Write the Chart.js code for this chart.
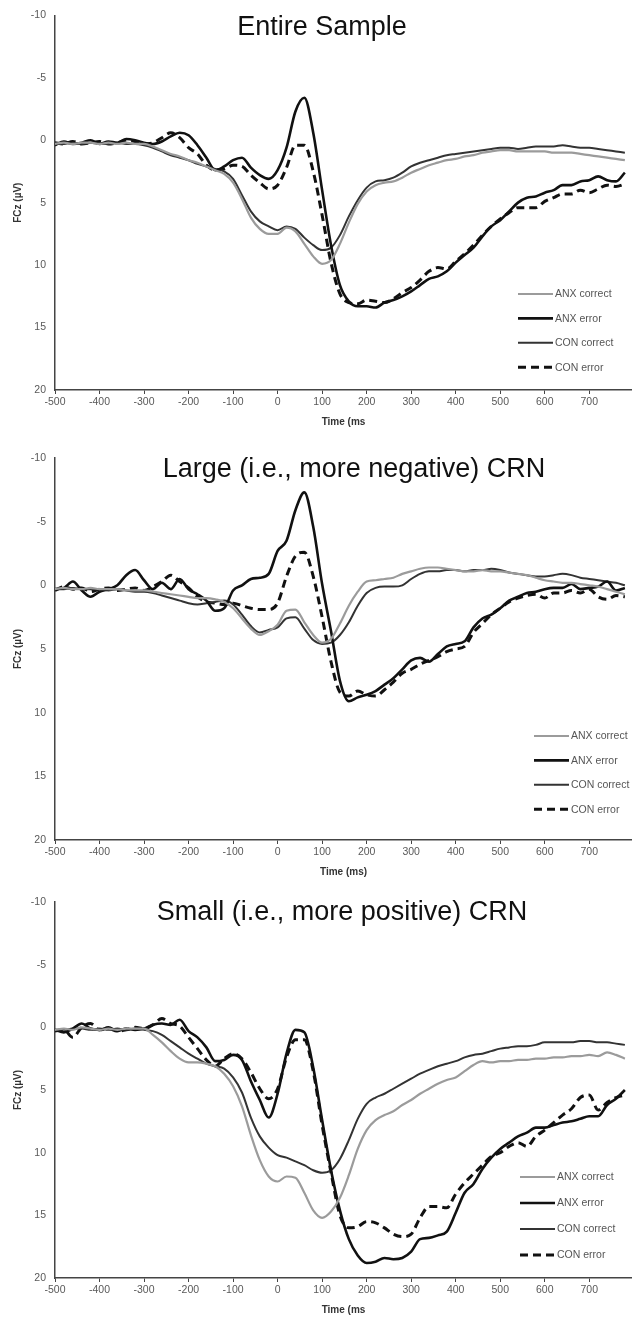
<!DOCTYPE html>
<html>
<head>
<meta charset="utf-8">
<script src="https://cdn.jsdelivr.net/npm/chart.js@4.4.1/dist/chart.umd.min.js"></script>
<style>
  body { margin: 0; background: #fff; }
  .panel { position: absolute; left: 0; width: 632px; }
</style>
</head>
<body>
<div class="panel" style="top:0;height:432px"><canvas id="entire"></canvas></div>
<div class="panel" style="top:442px;height:440px"><canvas id="large"></canvas></div>
<div class="panel" style="top:886px;height:434px"><canvas id="small"></canvas></div>
<script>
// time points (ms), shared by every panel
const times = [-500, -480, -460, -440, -420, -400, -380, -360, -340, -320, -300, -280, -260, -240, -220,
  -200, -180, -160, -140, -120, -100, -80, -60, -40, -20, 0, 20, 40, 60, 80, 100, 120, 140, 160, 180,
  200, 220, 240, 260, 280, 300, 320, 340, 360, 380, 400, 420, 440, 460, 480, 500, 520, 540, 560, 580,
  600, 620, 640, 660, 680, 700, 720, 740, 760, 780];

const seriesNames = ['ANX correct', 'ANX error', 'CON correct', 'CON error'];
const yTicks = [-10, -5, 0, 5, 10, 15, 20];
const xTicks = [-500, -400, -300, -200, -100, 0, 100, 200, 300, 400, 500, 600, 700];

// Entire Sample
const anxCorrect1 = [0.3, 0.2, 0.3, 0.2, 0.2, 0.3, 0.2, 0.3, 0.2, 0.3, 0.3, 0.5, 0.8, 1.1, 1.3,
  1.6, 1.8, 2.1, 2.4, 2.7, 3.4, 4.7, 6.2, 7.1, 7.5, 7.5, 7.0, 7.3, 8.3, 9.3, 9.9, 9.6, 8.3, 6.6, 5.1,
  4.1, 3.6, 3.4, 3.3, 3.0, 2.6, 2.3, 2.0, 1.8, 1.6, 1.5, 1.3, 1.2, 1.0, 0.9, 0.8, 0.8, 0.9, 0.9, 0.9,
  0.9, 1.0, 1.0, 1.0, 1.1, 1.2, 1.3, 1.4, 1.5, 1.6];
const anxError1 = [0.4, 0.1, 0.3, 0.2, 0.0, 0.3, 0.1, 0.2, -0.1, 0.0, 0.2, 0.3, 0.1, -0.3, -0.6,
  -0.4, 0.4, 1.4, 2.4, 2.1, 1.6, 1.4, 2.2, 2.8, 3.1, 2.4, 0.6, -2.3, -3.4, -0.6, 4.0, 8.4, 11.6, 12.9, 13.3,
  13.3, 13.4, 13.0, 12.8, 12.5, 12.1, 11.6, 11.1, 10.9, 10.5, 9.8, 9.2, 8.6, 7.7, 6.9, 6.4, 5.7, 5.0, 4.6, 4.5,
  4.2, 4.0, 3.6, 3.6, 3.3, 3.2, 2.9, 3.2, 3.3, 2.6];
const conCorrect1 = [0.3, 0.3, 0.2, 0.3, 0.2, 0.3, 0.3, 0.2, 0.3, 0.3, 0.4, 0.6, 0.9, 1.2, 1.4,
  1.6, 1.9, 2.1, 2.3, 2.5, 3.1, 4.4, 5.7, 6.5, 6.9, 7.2, 6.9, 7.1, 7.8, 8.4, 8.8, 8.6, 7.6, 6.1, 4.8,
  3.8, 3.3, 3.2, 3.0, 2.6, 2.1, 1.8, 1.6, 1.4, 1.2, 1.1, 1.0, 0.9, 0.8, 0.7, 0.6, 0.6, 0.7, 0.6, 0.5,
  0.5, 0.5, 0.4, 0.5, 0.6, 0.6, 0.7, 0.8, 0.9, 1.0];
const conError1 = [0.2, 0.3, 0.1, 0.3, 0.2, 0.1, 0.3, 0.2, 0.0, 0.1, 0.3, 0.2, -0.2, -0.6, -0.2,
  0.6, 1.1, 2.0, 2.4, 2.3, 2.0, 2.1, 2.8, 3.4, 3.9, 3.6, 2.2, 0.4, 0.4, 2.5, 6.0, 9.8, 12.3, 13.0, 13.1,
  12.8, 12.9, 13.0, 12.7, 12.2, 11.8, 11.2, 10.5, 10.2, 10.3, 9.7, 9.1, 8.4, 7.6, 6.9, 6.3, 5.8, 5.4, 5.4, 5.4,
  4.9, 4.6, 4.3, 4.3, 4.0, 4.2, 3.9, 3.6, 3.7, 3.5];

// Large (i.e., more negative) CRN
const anxCorrect2 = [0.3, 0.2, 0.3, 0.3, 0.2, 0.3, 0.3, 0.3, 0.4, 0.4, 0.4, 0.5, 0.6, 0.7, 0.8,
  0.9, 1.0, 1.0, 1.1, 1.3, 1.8, 2.6, 3.4, 3.9, 3.6, 3.1, 2.0, 1.9, 2.9, 3.9, 4.5, 4.2, 3.0, 1.6, 0.5,
  -0.3, -0.4, -0.5, -0.6, -0.9, -1.1, -1.3, -1.4, -1.4, -1.3, -1.2, -1.1, -1.1, -1.2, -1.1, -1.1, -1.0, -0.9, -0.8, -0.6,
  -0.4, -0.3, -0.2, -0.2, -0.1, 0.0, 0.1, 0.3, 0.5, 0.7];
const anxError2 = [0.3, 0.2, -0.3, 0.4, 0.9, 0.5, 0.3, 0.0, -0.8, -1.2, -0.4, 0.3, -0.2, 0.3, -0.5,
  0.3, 0.7, 1.2, 2.0, 1.8, 0.4, 0.0, -0.5, -0.6, -0.9, -2.7, -3.5, -5.9, -7.3, -4.6, -0.1, 3.6, 7.5, 9.1, 8.8,
  8.6, 8.3, 7.8, 7.3, 6.6, 5.9, 5.7, 6.0, 5.4, 4.8, 4.6, 4.4, 3.3, 2.6, 2.3, 1.8, 1.2, 0.9, 0.6, 0.5,
  0.3, 0.2, 0.2, -0.1, 0.3, 0.2, 0.1, -0.3, 0.4, 0.2];
const conCorrect2 = [0.3, 0.3, 0.2, 0.3, 0.3, 0.3, 0.4, 0.3, 0.4, 0.5, 0.5, 0.6, 0.8, 1.0, 1.2,
  1.4, 1.5, 1.4, 1.3, 1.2, 1.5, 2.3, 3.2, 3.7, 3.5, 3.3, 2.6, 2.5, 3.4, 4.3, 4.6, 4.5, 3.9, 2.9, 1.6,
  0.6, 0.2, 0.1, 0.1, 0.0, -0.5, -0.9, -1.1, -1.1, -1.2, -1.2, -1.1, -1.2, -1.2, -1.3, -1.2, -1.0, -0.9, -0.8, -0.7,
  -0.7, -0.8, -0.9, -0.8, -0.6, -0.5, -0.4, -0.3, -0.2, 0.0];
const conError2 = [0.4, 0.1, 0.3, 0.2, 0.5, 0.3, 0.2, 0.4, 0.3, 0.2, 0.4, 0.1, -0.3, -0.8, -0.3,
  0.2, 0.9, 1.3, 1.4, 1.5, 1.4, 1.6, 1.8, 1.9, 1.9, 1.4, -0.7, -2.3, -2.6, -0.7, 2.5, 6.0, 8.4, 8.7, 8.3,
  8.6, 8.7, 8.2, 7.6, 6.9, 6.6, 6.2, 5.9, 5.6, 5.2, 5.0, 4.8, 3.7, 3.0, 2.3, 1.8, 1.3, 1.0, 0.8, 0.7,
  1.0, 0.6, 0.6, 0.4, 0.6, 0.3, 0.9, 1.1, 0.8, 0.9];

// Small (i.e., more positive) CRN
const anxCorrect3 = [0.2, 0.1, 0.2, 0.0, 0.1, 0.2, 0.1, 0.2, 0.1, 0.1, 0.1, 0.6, 1.2, 1.9, 2.5,
  2.8, 2.8, 2.9, 3.1, 3.7, 4.7, 6.3, 8.6, 10.6, 11.9, 12.3, 11.9, 12.0, 13.2, 14.6, 15.2, 14.7, 13.6, 11.8, 9.7,
  8.2, 7.4, 7.0, 6.7, 6.2, 5.8, 5.3, 4.9, 4.5, 4.2, 4.0, 3.5, 3.0, 2.7, 2.8, 2.7, 2.7, 2.6, 2.6, 2.5,
  2.5, 2.4, 2.4, 2.3, 2.3, 2.2, 2.3, 2.0, 2.2, 2.5];
const anxError3 = [0.2, 0.4, 0.1, -0.3, 0.1, 0.2, 0.0, 0.3, 0.1, 0.2, 0.1, -0.2, -0.3, -0.2, -0.6,
  0.3, 0.8, 1.6, 2.7, 2.6, 2.2, 2.6, 4.3, 5.8, 7.2, 5.3, 2.1, 0.2, 0.4, 3.2, 7.4, 11.4, 14.6, 16.9, 18.2,
  18.8, 18.7, 18.4, 18.5, 18.4, 17.9, 16.9, 16.8, 16.6, 16.3, 14.8, 13.2, 12.5, 11.3, 10.4, 9.7, 9.2, 8.7, 8.4, 8.0,
  8.0, 7.8, 7.6, 7.5, 7.3, 7.1, 7.1, 6.2, 5.7, 5.0];
const conCorrect3 = [0.2, 0.2, 0.1, 0.1, 0.2, 0.1, 0.2, 0.1, 0.2, 0.1, 0.2, 0.3, 0.6, 1.1, 1.6,
  2.1, 2.5, 2.9, 3.1, 3.3, 4.0, 5.2, 7.2, 8.7, 9.6, 10.2, 10.4, 10.7, 11.0, 11.4, 11.6, 11.4, 10.5, 9.0, 7.3,
  6.1, 5.6, 5.3, 4.9, 4.5, 4.1, 3.7, 3.4, 3.1, 2.9, 2.7, 2.4, 2.2, 2.1, 1.9, 1.7, 1.6, 1.5, 1.5, 1.4,
  1.2, 1.2, 1.2, 1.2, 1.1, 1.1, 1.2, 1.2, 1.3, 1.4];
const conError3 = [0.3, 0.2, 0.8, 0.0, -0.3, 0.2, 0.1, 0.3, 0.2, 0.0, 0.1, -0.2, -0.7, -0.3, -0.1,
  0.8, 1.7, 2.6, 3.1, 2.5, 2.1, 2.5, 3.6, 4.9, 5.7, 4.9, 2.4, 1.0, 1.0, 3.5, 7.8, 11.6, 15.0, 16.0, 15.9,
  15.5, 15.6, 16.0, 16.5, 16.7, 16.5, 15.2, 14.3, 14.3, 14.4, 13.3, 12.4, 11.7, 11.0, 10.3, 10.0, 9.5, 9.2, 9.5, 8.7,
  8.2, 7.6, 7.0, 6.5, 5.6, 5.4, 6.6, 6.0, 5.6, 5.4];

const lineStyles = [
  { color: '#9b9b9b', width: 2.2, dash: [] },
  { color: '#111111', width: 2.6, dash: [] },
  { color: '#333333', width: 2.0, dash: [] },
  { color: '#111111', width: 3.0, dash: [8, 5] }
];

const tickFont = { family: '"Liberation Sans", Arial, sans-serif', size: 10.5 };

// title and legend drawn inside the plot area, like the original figure
const panelDecor = {
  id: 'panelDecor',
  afterDraw(chart, args, o) {
    const ctx = chart.ctx;
    ctx.save();
    ctx.fillStyle = '#111';
    ctx.font = '27px "Liberation Sans", Arial, sans-serif';
    ctx.textAlign = 'center';
    ctx.textBaseline = 'middle';
    ctx.fillText(o.title, o.titleX, o.titleY);

    ctx.font = '10.5px "Liberation Sans", Arial, sans-serif';
    ctx.textAlign = 'left';
    chart.data.datasets.forEach((ds, i) => {
      const y = o.legendY + i * o.legendGap;
      ctx.beginPath();
      ctx.strokeStyle = ds.borderColor;
      ctx.lineWidth = ds.borderWidth;
      ctx.setLineDash(ds.borderDash);
      ctx.moveTo(o.legendX, y);
      ctx.lineTo(o.legendX + 35, y);
      ctx.stroke();
      ctx.setLineDash([]);
      ctx.fillStyle = '#555';
      ctx.fillText(ds.label, o.legendX + 37, y + 0.5);
    });
    ctx.restore();
  }
};

function makeChart(id, series, opts) {
  const datasets = series.map((values, i) => ({
    label: seriesNames[i],
    data: times.map((t, k) => ({ x: t, y: values[k] })),
    borderColor: lineStyles[i].color,
    borderWidth: lineStyles[i].width,
    borderDash: lineStyles[i].dash,
    pointRadius: 0,
    cubicInterpolationMode: 'monotone',
    fill: false
  }));

  return new Chart(document.getElementById(id), {
    type: 'line',
    data: { datasets },
    plugins: [panelDecor],
    options: {
      responsive: true,
      maintainAspectRatio: false,
      animation: false,
      layout: { padding: { top: opts.top, left: 0, right: 0, bottom: 0 } },
      scales: {
        x: {
          type: 'linear',
          min: -500,
          max: 796,
          afterBuildTicks: (scale) => {
            scale.ticks = xTicks.map(v => ({ value: v }));
          },
          afterFit: (scale) => { scale.height = 42; },
          ticks: { color: '#595959', font: tickFont, padding: 2, maxRotation: 0, autoSkip: false },
          grid: { drawOnChartArea: false, tickLength: 4, color: '#444' },
          border: { color: '#444', width: 1.5 },
          title: {
            display: true,
            text: opts.xTitle,
            color: '#333',
            font: { family: '"Liberation Sans", Arial, sans-serif', size: 10, weight: 'bold' },
            padding: { top: 0, bottom: 4 }
          }
        },
        y: {
          min: -10,
          max: 20,
          reverse: true,
          afterBuildTicks: (scale) => {
            scale.ticks = yTicks.map(v => ({ value: v }));
          },
          afterFit: (scale) => { scale.width = 55; },
          ticks: { color: '#595959', font: tickFont, padding: 9 },
          grid: { drawOnChartArea: false, drawTicks: false },
          border: { color: '#444', width: 1.5 },
          title: {
            display: true,
            text: 'FCz (µV)',
            color: '#333',
            font: { family: '"Liberation Sans", Arial, sans-serif', size: 10, weight: 'bold' },
            padding: { top: 12, bottom: 0 }
          }
        }
      },
      plugins: {
        legend: { display: false },
        tooltip: { enabled: false },
        panelDecor: opts.decor
      }
    }
  });
}

makeChart('entire', [anxCorrect1, anxError1, conCorrect1, conError1], {
  top: 15,
  xTitle: 'Time (ms',
  decor: { title: 'Entire Sample', titleX: 322, titleY: 28, legendX: 518, legendY: 294, legendGap: 24.4 }
});

makeChart('large', [anxCorrect2, anxError2, conCorrect2, conError2], {
  top: 16,
  xTitle: 'Time (ms)',
  decor: { title: 'Large (i.e., more negative) CRN', titleX: 354, titleY: 28, legendX: 534, legendY: 294, legendGap: 24.4 }
});

makeChart('small', [anxCorrect3, anxError3, conCorrect3, conError3], {
  top: 16,
  xTitle: 'Time (ms',
  decor: { title: 'Small (i.e., more positive) CRN', titleX: 342, titleY: 27, legendX: 520, legendY: 291, legendGap: 26 }
});
</script>
</body>
</html>
